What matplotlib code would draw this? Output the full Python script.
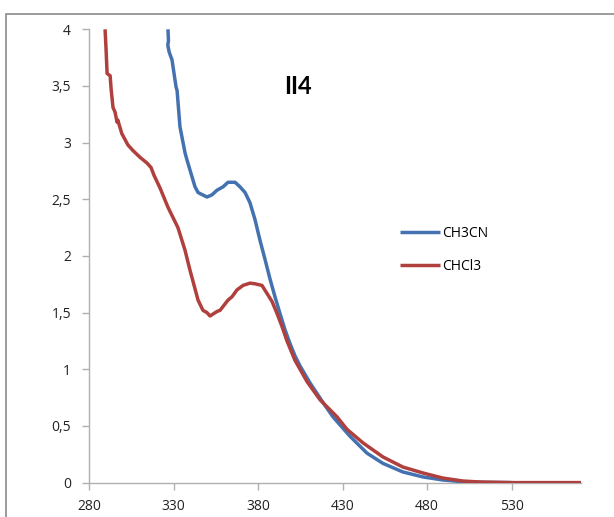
import matplotlib
matplotlib.use("Agg")
import matplotlib.pyplot as plt
from matplotlib.patches import Rectangle
from matplotlib.ticker import FuncFormatter, MultipleLocator

# Absorption spectra of II4 in two solvents (wavelength in nm, absorbance)
ch3cn_nm = [326.7, 327.0, 326.6, 327.4, 329.1, 331.5, 332.1, 333.8, 336.8, 337.9,
            340.3, 342.7, 344.5, 345.7, 349.8, 352.8, 355.7, 359.3, 362.2, 366.4,
            369.3, 372.3, 375.2, 378.2, 381.1, 384.1, 387.0, 390.0, 393.0, 395.9,
            398.8, 401.8, 404.8, 410.7, 417.8, 424.3, 434.3, 444.4, 453.8, 465.6,
            477.5, 489.3, 501.1, 515.0, 530.0]
ch3cn_abs = [4.00, 3.90, 3.86, 3.80, 3.73, 3.49, 3.46, 3.14, 2.91, 2.85,
             2.73, 2.61, 2.56, 2.55, 2.52, 2.54, 2.58, 2.61, 2.65, 2.65,
             2.61, 2.56, 2.47, 2.32, 2.14, 1.97, 1.80, 1.64, 1.49, 1.35,
             1.23, 1.12, 1.03, 0.88, 0.72, 0.58, 0.41, 0.26, 0.17, 0.094,
             0.05, 0.023, 0.008, 0.002, 0.0]

chcl3_nm = [289.5, 290.1, 290.7, 292.5, 293.1, 294.2, 295.4, 296.6, 297.0, 299.4,
            303.0, 306.0, 310.2, 314.3, 316.7, 318.5, 322.0, 326.7, 332.6, 336.8,
            339.8, 340.9, 344.5, 347.4, 349.8, 351.6, 355.7, 357.5, 362.2, 364.6,
            367.5, 371.1, 375.2, 378.0, 382.3, 388.2, 391.0, 394.1, 397.1, 401.8,
            409.0, 416.7, 426.7, 432.6, 442.1, 453.9, 465.7, 477.5, 489.3, 501.1,
            511.2, 530.0, 550.0, 571.0]
chcl3_abs = [4.00, 3.82, 3.61, 3.59, 3.47, 3.31, 3.27, 3.18, 3.20, 3.08,
             2.98, 2.93, 2.87, 2.82, 2.78, 2.71, 2.60, 2.43, 2.25, 2.05,
             1.87, 1.81, 1.61, 1.52, 1.50, 1.47, 1.51, 1.52, 1.61, 1.64,
             1.70, 1.74, 1.76, 1.755, 1.74, 1.60, 1.50, 1.38, 1.25, 1.08,
             0.89, 0.73, 0.58, 0.47, 0.35, 0.226, 0.137, 0.085, 0.04, 0.014,
             0.005, 0.0, 0.0, 0.0]

x_ticks = [280, 330, 380, 430, 480, 530]
series_labels = ["CH3CN", "CHCl3"]
title_text = "II4"

W, H = 614, 517
fig = plt.figure(figsize=(W / 100, H / 100), dpi=100)
fig.patch.set_facecolor("white")

# outer chart frame
fig.patches.append(Rectangle((6 / W, -0.2), 2.0, 1 - 14 / H + 0.2,
                             transform=fig.transFigure, fill=False,
                             edgecolor="#8a8a8a", linewidth=1.2))

left, right = 89 / W, 581 / W
bottom, top = (H - 482.6) / H, (H - 29.3) / H
ax = fig.add_axes([left, bottom, right - left, top - bottom])
ax.set_facecolor("none")

blue = "#4472B0"
red = "#B0403D"
ax.plot(ch3cn_nm, ch3cn_abs, color=blue, lw=2.5, label=series_labels[0],
        solid_joinstyle="round", solid_capstyle="butt", zorder=3)
ax.plot(chcl3_nm, chcl3_abs, color=red, lw=2.5, label=series_labels[1],
        solid_joinstyle="round", solid_capstyle="butt", zorder=4)

ax.set_xlim(280, 571)
ax.set_ylim(0, 4)
ax.set_xticks(x_ticks)
ax.yaxis.set_major_locator(MultipleLocator(0.5))
ax.yaxis.set_major_formatter(FuncFormatter(
    lambda v, p: ("%g" % v).replace(".", ",")))

for s in ("top", "right"):
    ax.spines[s].set_visible(False)
for s in ("left", "bottom"):
    ax.spines[s].set_color("#b0b0b0")
    ax.spines[s].set_linewidth(1.0)

font = "Open Sans"
ax.tick_params(axis="both", direction="out", length=5, width=1,
               color="#b0b0b0", labelsize=10, labelcolor="#222222")
ax.tick_params(axis="y", pad=8)
ax.tick_params(axis="x", pad=7)
for lbl in ax.get_xticklabels() + ax.get_yticklabels():
    lbl.set_fontfamily(font)

fig.text(298 / W, 1 - 87 / H, title_text, fontsize=17, fontweight="bold",
         family="Lato", ha="center", va="center")

leg = ax.legend(loc="upper left", bbox_to_anchor=(400 / W, 1 - 226 / H),
                bbox_transform=fig.transFigure, frameon=False,
                prop={"family": font, "size": 10}, handlelength=2.85,
                handletextpad=0.15, labelspacing=1.3, borderpad=0,
                borderaxespad=0)

fig.savefig("out.png", dpi=100)
